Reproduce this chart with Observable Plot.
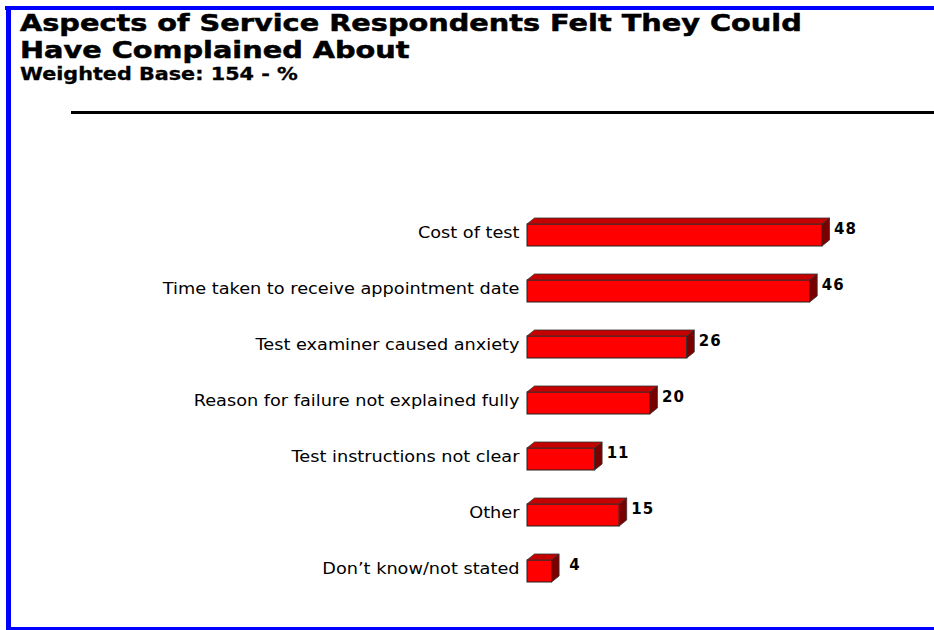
<!DOCTYPE html>
<html>
<head>
<meta charset="utf-8">
<script src="https://cdn.jsdelivr.net/npm/d3@7"></script>
<script src="https://cdn.jsdelivr.net/npm/@observablehq/plot@0.6"></script>
<style>
  html, body { margin: 0; padding: 0; background: #fff; }
  #frame { position: relative; width: 934px; height: 630px; background: #fff; overflow: hidden; }
  .edge { position: absolute; background: #0000FF; }
  .title { position: absolute; left: 20px; top: 9.5px; font-family: "DejaVu Sans", sans-serif; font-weight: bold;
           font-size: 23px; line-height: 27px; color: #000; transform: scaleX(1.25); transform-origin: 0 0;
           white-space: nowrap; -webkit-text-stroke: 0.5px #000; }
  .subtitle { position: absolute; left: 20px; top: 65.6px; font-family: "DejaVu Sans", sans-serif; font-weight: bold;
           font-size: 17px; line-height: 16px; color: #000; transform: scaleX(1.22); transform-origin: 0 0;
           white-space: nowrap; -webkit-text-stroke: 0.3px #000; }
  .rule { position: absolute; left: 71px; right: 0; top: 111px; height: 3px; background: #000; }
  #chart { position: absolute; left: 0; top: 120px; }
  #chart g[aria-label="text"] text { letter-spacing: 1px; }
</style>
</head>
<body>
<div id="frame">
  <div class="edge" style="left:5px; right:0; top:6px; height:4px;"></div>
  <div class="edge" style="left:6px; width:5px; top:6px; bottom:0;"></div>
  <div class="edge" style="left:6px; right:0; bottom:0; height:3px;"></div>
  <div class="title">Aspects of Service Respondents Felt They Could<br>Have Complained About</div>
  <div class="subtitle">Weighted Base: 154 - %</div>
  <div class="rule"></div>
  <div id="chart"></div>
</div>
<script>
const categories = [
  "Cost of test",
  "Time taken to receive appointment date",
  "Test examiner caused anxiety",
  "Reason for failure not explained fully",
  "Test instructions not clear",
  "Other",
  "Don’t know/not stated"
];
const values = [48, 46, 26, 20, 11, 15, 4];

const data = categories.map((label, i) => ({label, value: values[i]}));

const chart = Plot.plot({
  width: 934,
  height: 500,
  marginLeft: 527,
  marginRight: 112,
  marginTop: 0,
  marginBottom: 0,
  style: {fontFamily: "DejaVu Sans, sans-serif", fontSize: "15.4px", color: "#000", background: "transparent"},
  x: {domain: [0, 48], axis: null},
  y: {domain: categories, range: [68, 499], padding: 0.6, tickSize: 0, tickPadding: 8, label: null},
  marks: [
    Plot.barX(data, {x: "value", y: "label", fill: "#FF0000", stroke: "#222", strokeWidth: 1}),
    Plot.text(data, {x: "value", y: "label", text: d => String(d.value), dx: 23, dy: -6,
                     fontSize: 15, fontWeight: "bold", fill: "#000"})
  ]
});
document.getElementById("chart").appendChild(chart);

// stretch axis labels horizontally like the reference
d3.select(chart).selectAll('g[aria-label="y-axis tick label"] text').each(function() {
  const t = this.getAttribute("transform") || "";
  this.setAttribute("transform", t + " translate(0,-2) scale(1.15,1)");
});

// 3D faces (top and side) from the library's scales
const xs = chart.scale("x"), ys = chart.scale("y");
const bw = ys.bandwidth;
const DX = 7.5, DY = 6;
const faces = d3.create("svg:g").attr("aria-label", "bar faces");
for (const d of data) {
  const x0 = xs.apply(0), x1 = xs.apply(d.value);
  const yT = ys.apply(d.label), yB = yT + bw;
  faces.append("path")
    .attr("d", `M${x0},${yT}L${x0 + DX},${yT - DY}L${x1 + DX},${yT - DY}L${x1},${yT}Z`)
    .attr("fill", "#C40000").attr("stroke", "#333").attr("stroke-width", 0.8).attr("stroke-linejoin", "round");
  faces.append("path")
    .attr("d", `M${x1},${yT}L${x1 + DX},${yT - DY}L${x1 + DX},${yB - DY}L${x1},${yB}Z`)
    .attr("fill", "#7A0000").attr("stroke", "#333").attr("stroke-width", 0.8).attr("stroke-linejoin", "round");
}
const textG = chart.querySelector('g[aria-label="text"]');
chart.insertBefore(faces.node(), textG);
</script>
</body>
</html>
